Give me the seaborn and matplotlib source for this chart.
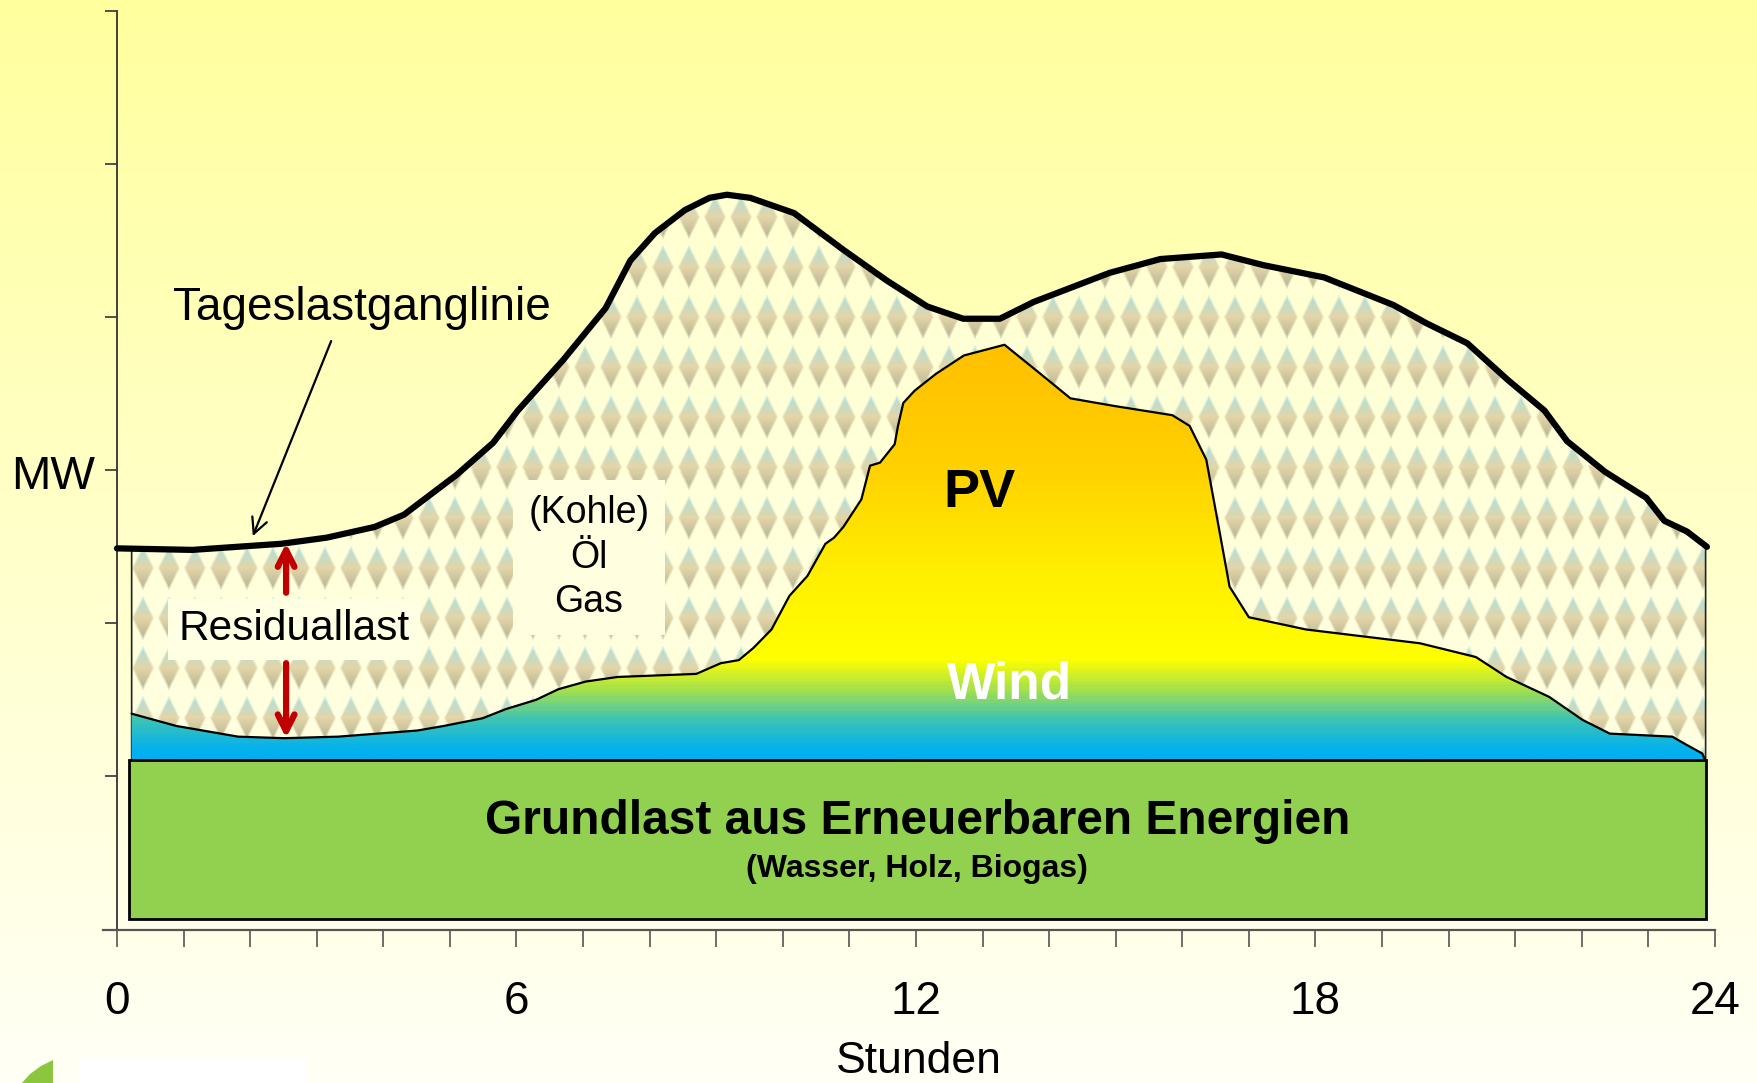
import numpy as np
import matplotlib
matplotlib.use("Agg")
import matplotlib.pyplot as plt
import seaborn as sns
from matplotlib.colors import LinearSegmentedColormap, to_rgb
from matplotlib.patches import Polygon, Rectangle


# --------------------------------------------------
# Data (hours of the day vs. MW, arbitrary units)
# --------------------------------------------------

# daily load curve (Tageslastganglinie)
load_hours = [0.00, 1.13, 2.47, 3.15, 3.87, 4.31, 5.10, 5.65, 6.02, 6.70,
              7.34, 7.71, 8.08, 8.53, 8.90, 9.16, 9.51, 10.17, 10.91, 11.56,
              12.17, 12.71, 13.26, 13.77, 14.91, 15.67, 16.59, 17.22, 18.13, 19.17,
              19.67, 20.28, 20.89, 21.44, 21.78, 22.35, 22.97, 23.24, 23.58, 23.88]
load_mw = [2.49, 2.48, 2.52, 2.56, 2.63, 2.71, 2.97, 3.18, 3.39, 3.72,
           4.06, 4.37, 4.55, 4.70, 4.78, 4.80, 4.78, 4.68, 4.44, 4.24,
           4.07, 3.99, 3.99, 4.10, 4.29, 4.38, 4.41, 4.34, 4.26, 4.08,
           3.96, 3.83, 3.59, 3.39, 3.19, 2.99, 2.82, 2.67, 2.60, 2.50]

# upper edge of wind + PV feed-in
renew_hours = [0.22, 0.89, 1.82, 2.51, 3.32, 4.51, 4.91, 5.49, 5.84, 6.29,
               6.63, 7.04, 7.52, 8.70, 9.07, 9.34, 9.56, 9.83, 10.10, 10.37,
               10.64, 10.77, 10.91, 11.18, 11.31, 11.46, 11.68, 11.73, 11.81, 11.98,
               12.30, 12.72, 13.33, 13.87, 14.32, 14.98, 15.85, 16.11, 16.36, 16.53,
               16.71, 17.00, 17.86, 19.57, 20.41, 20.87, 21.51, 22.01, 22.42, 23.36,
               23.56, 23.81, 23.84]
renew_mw = [1.41, 1.33, 1.26, 1.25, 1.26, 1.30, 1.33, 1.38, 1.44, 1.50,
            1.57, 1.62, 1.65, 1.67, 1.74, 1.76, 1.84, 1.96, 2.18, 2.31,
            2.52, 2.56, 2.63, 2.81, 3.03, 3.05, 3.17, 3.29, 3.44, 3.52,
            3.63, 3.75, 3.82, 3.63, 3.47, 3.42, 3.36, 3.29, 3.07, 2.67,
            2.24, 2.04, 1.96, 1.87, 1.78, 1.65, 1.52, 1.37, 1.28, 1.26,
            1.21, 1.15, 1.12]

# base load block from renewables (Wasser, Holz, Biogas)
base_start = 0.18
base_end = 23.86
base_bottom = 0.07
base_top = 1.106

# hatched residual load area
hatch_start = 0.22
hatch_end = 23.86

residual_hour = 2.54

hour_ticks = list(range(0, 25))
hour_labels = [str(h) if h % 6 == 0 else "" for h in hour_ticks]
mw_ticks = [0, 1, 2, 3, 4, 5, 6]


sns.set_style("white")
plt.rcParams["font.family"] = ["Liberation Sans", "DejaVu Sans"]
plt.rcParams["text.color"] = "black"
plt.rcParams["axes.labelcolor"] = "black"
plt.rcParams["xtick.color"] = "black"
plt.rcParams["ytick.color"] = "black"

FIG_W, FIG_H, DPI = 17.58, 10.83, 100
fig = plt.figure(figsize=(FIG_W, FIG_H), dpi=DPI)

# background gradient (yellow -> cream)
bg_ax = fig.add_axes([0, 0, 1, 1], zorder=-10)
bg_ax.set_axis_off()
bg_top = np.array(to_rgb("#ffff9e"))
bg_bottom = np.array(to_rgb("#fffff6"))
tt = np.linspace(0, 1, 400)[:, None]
bg_img = bg_top * (1 - tt)[..., None] + bg_bottom * tt[..., None]
bg_img = np.repeat(bg_img, 2, axis=1)
bg_ax.imshow(bg_img, aspect="auto", extent=(0, 1, 0, 1))

ax = fig.add_axes([0.0586, 0.1417, 0.9169, 0.8481])
ax.set_facecolor("none")
x_min, x_max = -0.21, 24.0
ax.set_xlim(x_min, x_max)
ax.set_ylim(0, 6)

# --------------------------------------------------
# Hatched area (Kohle / Öl / Gas) under the load curve
# --------------------------------------------------

load_left = np.interp(hatch_start, load_hours, load_mw)
load_right = np.interp(hatch_end, load_hours, load_mw)
top_pts = [(h, m) for h, m in zip(load_hours, load_mw) if hatch_start < h < hatch_end]
hatch_verts = ([(hatch_start, base_top), (hatch_start, load_left)] + top_pts
               + [(hatch_end, load_right), (hatch_end, base_top)])
hatch_poly = Polygon(hatch_verts, closed=True, facecolor="none",
                     edgecolor="#222222", linewidth=1.2, zorder=1.5)
ax.add_patch(hatch_poly)

bbox = ax.get_window_extent()
W, H = int(round(bbox.width)), int(round(bbox.height))
px = np.arange(W) + bbox.x0 + 0.5
py = np.arange(H) + (FIG_H * DPI - bbox.y1) + 0.5
PX, PY = np.meshgrid(px, py)
u = (PX - 117 + 13) % 26 - 13
v = (PY - 467 + 25) % 50 - 25
dist = np.abs(u) / 11.8 + np.abs(v) / 23.5
alpha = np.clip((1.0 - dist) * 4, 0, 1)[..., None]
t = np.clip((v + 23.5) / 47.0, 0, 1)[..., None]
c_top = np.array(to_rgb("#a6e2e4"))
c_mid = np.array(to_rgb("#e4d5a8"))
c_bot = np.array(to_rgb("#aeb092"))
col = np.where(t < 0.5,
               c_top * (1 - 2 * t) + c_mid * (2 * t),
               c_mid * (2 - 2 * t) + c_bot * (2 * t - 1))
row_t = (PY / (FIG_H * DPI))[..., None]
bg_rows = bg_top * (1 - row_t) + bg_bottom * row_t
hatch_bg = 0.35 * bg_rows + 0.65 * np.array(to_rgb("#ffffe4"))
texture = hatch_bg * (1 - alpha) + col * alpha
im_hatch = ax.imshow(texture, extent=(x_min, x_max, 0, 6), aspect="auto",
                     origin="upper", zorder=1, interpolation="nearest")
im_hatch.set_clip_path(hatch_poly)

# --------------------------------------------------
# Wind + PV area with vertical colour gradient
# --------------------------------------------------

renew_verts = ([(renew_hours[0], base_top)] + list(zip(renew_hours, renew_mw))
               + [(renew_hours[-1], base_top)])
renew_poly = Polygon(renew_verts, closed=True, facecolor="none",
                     edgecolor="none", zorder=2)
ax.add_patch(renew_poly)

grad_cmap = LinearSegmentedColormap.from_list("wind_pv", [
    (0.0, "#00b0f0"),
    (1.16 / 6, "#00b0f0"),
    (1.36 / 6, "#3cc3b6"),
    (1.55 / 6, "#9fdf52"),
    (1.76 / 6, "#ffff00"),
    (2.3 / 6, "#fff000"),
    (3.0 / 6, "#ffd200"),
    (3.8 / 6, "#ffc000"),
    (1.0, "#ffc000"),
])
grad = np.linspace(0, 1, 600)[:, None]
im_renew = ax.imshow(grad, extent=(x_min, x_max, 0, 6), aspect="auto",
                     origin="lower", cmap=grad_cmap, vmin=0, vmax=1, zorder=2)
im_renew.set_clip_path(renew_poly)

sns.lineplot(x=renew_hours, y=renew_mw, color="black", linewidth=1.6,
             estimator=None, sort=False, ax=ax, zorder=3)

# base load block
ax.add_patch(Rectangle((base_start, base_bottom), base_end - base_start,
                       base_top - base_bottom, facecolor="#92d050",
                       edgecolor="black", linewidth=2, zorder=4))

# daily load curve
sns.lineplot(x=load_hours, y=load_mw, color="black", linewidth=4.5,
             estimator=None, sort=False, ax=ax, zorder=5)
ax.lines[-1].set_solid_joinstyle("round")

# --------------------------------------------------
# Labels
# --------------------------------------------------

ax.annotate("Tageslastganglinie", xy=(2.04, 2.57), xytext=(3.68, 4.06),
            textcoords="data", fontsize=33, ha="center", va="center", zorder=6,
            arrowprops=dict(arrowstyle="->", color="black", lw=1.6,
                            mutation_scale=28, relpos=(0.43, 0.0), shrinkA=6,
                            shrinkB=0))

res_top = np.interp(residual_hour, load_hours, load_mw)
res_bottom = np.interp(residual_hour, renew_hours, renew_mw)
red = "#c00000"
ax.annotate("", xy=(residual_hour, res_top), xytext=(residual_hour, 2.2),
            arrowprops=dict(arrowstyle="->", color=red, lw=4.5,
                            mutation_scale=30, shrinkA=0, shrinkB=0), zorder=6)
ax.annotate("", xy=(residual_hour, res_bottom), xytext=(residual_hour, 1.74),
            arrowprops=dict(arrowstyle="->", color=red, lw=4.5,
                            mutation_scale=30, shrinkA=0, shrinkB=0), zorder=6)

ax.text(2.66, 1.96, "Residuallast", fontsize=30.5, ha="center", va="center",
        zorder=7, bbox=dict(boxstyle="square,pad=0.25", fc="#ffffe4", ec="none"))

ax.text(7.09, 2.43, "(Kohle)\nÖl\nGas", fontsize=27, ha="center", va="center",
        linespacing=1.3, zorder=7,
        bbox=dict(boxstyle="square,pad=0.4", fc="#ffffe0", ec="none"))

ax.text(12.95, 2.85, "PV", fontsize=39, fontweight="bold", ha="center",
        va="center", zorder=7)
ax.text(13.40, 1.60, "Wind", fontsize=37, fontweight="bold", color="white",
        ha="center", va="center", zorder=7)

ax.text(12.02, 0.703, "Grundlast aus Erneuerbaren Energien", fontsize=34.5,
        fontweight="bold", ha="center", va="center", zorder=7)
ax.text(12.02, 0.395, "(Wasser, Holz, Biogas)", fontsize=23,
        fontweight="bold", ha="center", va="center", zorder=7)

# --------------------------------------------------
# Axes styling
# --------------------------------------------------

sns.despine(ax=ax, top=True, right=True)
ax.spines["left"].set_position(("data", 0))
ax.spines["left"].set_color("#333333")
ax.spines["left"].set_linewidth(1.3)
ax.spines["bottom"].set_color("#555555")
ax.spines["bottom"].set_linewidth(1.6)

ax.set_yticks(mw_ticks)
ax.set_yticklabels([])
ax.tick_params(axis="y", left=True, direction="out", length=9, width=1.2,
               color="#333333")

ax.set_xticks(hour_ticks)
ax.set_xticklabels(hour_labels, fontsize=33)
ax.tick_params(axis="x", bottom=True, direction="out", length=12, width=1.2,
               color="#555555", labelcolor="black", pad=24)

ax.set_ylabel("MW", rotation=0, fontsize=34, ha="center", va="center")
ax.yaxis.set_label_coords(-0.031, 0.493)
ax.set_xlabel("Stunden", fontsize=32, va="center")
ax.xaxis.set_label_coords(0.506, -0.144)

# partial logo at the bottom-left corner
fig.patches.append(Rectangle((80 / 1758, 0), 225 / 1758, 26 / 1083,
                             transform=fig.transFigure, facecolor="white",
                             edgecolor="none", zorder=-5))
leaf = [(22, 1083), (30, 1074), (41, 1066), (53, 1060), (53, 1083)]
fig.patches.append(Polygon([(x / 1758, 1 - y / 1083) for x, y in leaf],
                           closed=True, transform=fig.transFigure,
                           facecolor="#8cc63f", edgecolor="none", zorder=-5))

fig.savefig("out.png", dpi=DPI)
plt.close(fig)
